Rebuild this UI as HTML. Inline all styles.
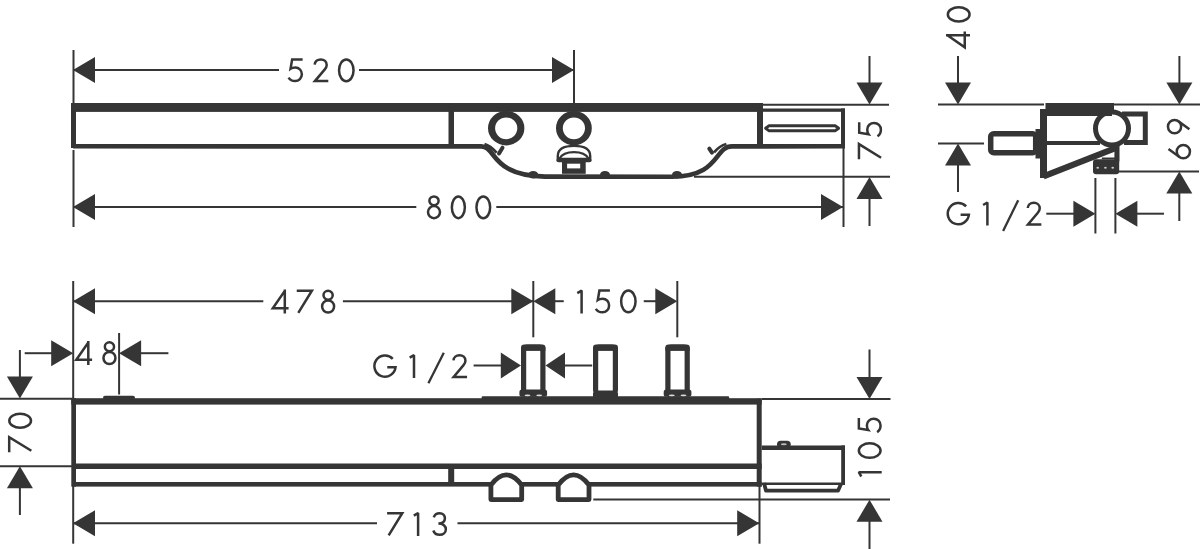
<!DOCTYPE html>
<html><head><meta charset="utf-8"><style>
html,body{margin:0;padding:0;background:#fff;}
svg{display:block;}
.f{fill:#353535;stroke:none;}
</style></head><body>
<svg width="1200" height="549" viewBox="0 0 1200 549" stroke="#353535" font-family="Liberation Sans, sans-serif">
<rect width="1200" height="549" fill="#fff" stroke="none"/>
<line x1="73.5" y1="50" x2="73.5" y2="103" stroke-width="2"/>
<line x1="574" y1="50" x2="574" y2="103" stroke-width="2"/>
<line x1="73" y1="70" x2="279" y2="70" stroke-width="2"/>
<line x1="359" y1="70" x2="574" y2="70" stroke-width="2"/>
<polygon class="f" points="73,70 95,57 95,83"/>
<polygon class="f" points="574,70 552,57 552,83"/>
<g transform="translate(295.25 70.25)" fill="none" stroke-width="2.5"><path d="M7.4,-10.85 L-3.1,-10.85 L-4.7,-1.5 C-3.3,-2.5 -1.7,-2.8 0.1,-2.8 C3.9,-2.8 6.6,0.3 6.6,4.1 C6.6,7.9 3.7,10.85 -0.1,10.85 C-3,10.85 -5.5,9.3 -6.7,7.4"/></g>
<g transform="translate(320.9 70.25)" fill="none" stroke-width="2.5"><path d="M-6.2,-5.6 C-6.0,-8.8 -3.4,-10.85 -0.2,-10.85 C3.3,-10.85 5.8,-8.5 5.8,-5.3 C5.8,-3.6 5.1,-2.3 3.9,-0.9 L-6.0,10.85 L7.4,10.85"/></g>
<g transform="translate(346.3 70.3)" fill="none" stroke-width="2.5"><ellipse cx="0" cy="0" rx="7.25" ry="10.85"/></g>
<rect x="71" y="103" width="690.5" height="8.9" class="f"/>
<rect x="71" y="103" width="5" height="45" class="f"/>
<rect x="448.5" y="111" width="5.5" height="34" class="f"/>
<rect x="757" y="103" width="6" height="45" class="f"/>
<path d="M73,146.3 L481,146.4 C496.3,146 490.2,175.6 545,176.6 L672,176.7 C720.1,176.7 714.1,146.4 732,146.4 L845,146.3" stroke-width="4.6" fill="none" />
<ellipse cx="533.2" cy="174.8" rx="5" ry="3.8" class="f"/>
<ellipse cx="605" cy="174.8" rx="5" ry="3.8" class="f"/>
<ellipse cx="677" cy="174.8" rx="5" ry="3.8" class="f"/>
<path d="M484.5,144.2 C489,145.4 493,148.8 496.6,152.8" stroke-width="2.8" fill="none" />
<path d="M502.5,147.7 L499,153.5" stroke-width="4" fill="none" stroke-linecap="round"/>
<path d="M726.4,144 C721,145.4 717,148.8 714,152.4" stroke-width="2.8" fill="none" />
<path d="M709.3,148.6 L712,152.7" stroke-width="4" fill="none" stroke-linecap="round"/>
<path d="M488.0,128.2 a18.2,17.2 0 1 0 36.4,0 a18.2,17.2 0 1 0 -36.4,0 Z M495.09999999999997,128.3 a11.1,10.9 0 1 0 22.2,0 a11.1,10.9 0 1 0 -22.2,0 Z" class="f" fill-rule="evenodd"/>
<path d="M556.0,128.2 a17.9,17.2 0 1 0 35.8,0 a17.9,17.2 0 1 0 -35.8,0 Z M562.8,128.3 a11.1,10.9 0 1 0 22.2,0 a11.1,10.9 0 1 0 -22.2,0 Z" class="f" fill-rule="evenodd"/>
<rect x="562" y="161" width="23.7" height="12.8" class="f"/>
<rect x="567.1" y="163.7" width="13.1" height="4.7" fill="#fff" stroke="none"/>
<path d="M557.8,161.5 L557.8,156 C557.8,149 564.5,145.9 574,145.9 C583.5,145.9 590.2,149 590.2,156 L590.2,161.5" stroke-width="2.4" fill="#fff" />
<rect x="556.6" y="157.8" width="34.8" height="4.4" rx="2" class="f"/>
<path d="M559.5,158.5 C562,154 567,152.1 574,152.1 C581,152.1 586,154 588.5,158.5" stroke-width="2.2" fill="none" />
<rect x="762" y="108.5" width="83" height="3.3" class="f"/>
<rect x="841" y="108.5" width="4" height="39.5" class="f"/>
<path d="M765.6,128.25 L768.8,125.8 L835.4,125.8 L838.6,128.25 L835.4,130.7 L768.8,130.7 Z" stroke-width="2.9" fill="#fff" stroke-linejoin="round"/>
<line x1="763" y1="104.7" x2="889" y2="104.7" stroke-width="2"/>
<line x1="694" y1="176.8" x2="890" y2="176.8" stroke-width="2"/>
<line x1="869.5" y1="56" x2="869.5" y2="100" stroke-width="2"/>
<polygon class="f" points="869.5,104.6 856.5,82.6 882.5,82.6"/>
<line x1="869.5" y1="180" x2="869.5" y2="226" stroke-width="2"/>
<polygon class="f" points="869.5,177 856.5,199 882.5,199"/>
<g transform="translate(869.8 151) rotate(-90)" fill="none" stroke-width="2.5"><path d="M-8.25,-10.85 L6.9,-10.85 L-6.7,11.3"/></g>
<g transform="translate(870.05 129.55) rotate(-90)" fill="none" stroke-width="2.5"><path d="M7.4,-10.85 L-3.1,-10.85 L-4.7,-1.5 C-3.3,-2.5 -1.7,-2.8 0.1,-2.8 C3.9,-2.8 6.6,0.3 6.6,4.1 C6.6,7.9 3.7,10.85 -0.1,10.85 C-3,10.85 -5.5,9.3 -6.7,7.4"/></g>
<line x1="73.5" y1="150" x2="73.5" y2="227" stroke-width="2"/>
<line x1="843.5" y1="148" x2="843.5" y2="227" stroke-width="2"/>
<line x1="73" y1="207" x2="416.3" y2="207" stroke-width="2"/>
<line x1="496.3" y1="207" x2="843" y2="207" stroke-width="2"/>
<polygon class="f" points="73,207 95,194 95,220"/>
<polygon class="f" points="843,207 821,194 821,220"/>
<g transform="translate(434 207.3)" fill="none" stroke-width="2.5"><ellipse cx="0" cy="-6.45" rx="4.6" ry="4.4"/><ellipse cx="0" cy="4.8" rx="6.0" ry="6.05"/></g>
<g transform="translate(458.35 207.3)" fill="none" stroke-width="2.5"><ellipse cx="0" cy="0" rx="6.5" ry="10.85"/></g>
<g transform="translate(483.3 207.3)" fill="none" stroke-width="2.5"><ellipse cx="0" cy="0" rx="6.85" ry="10.85"/></g>
<g transform="translate(958.7 14.4) rotate(-90)" fill="none" stroke-width="2.5"><ellipse cx="0" cy="0" rx="7.05" ry="10.85"/></g>
<g transform="translate(958 39.75) rotate(-90)" fill="none" stroke-width="2.5"><path d="M4.5,12 L4.5,-12 M4.5,-10.6 L-7.5,6.75 L8.3,6.75"/></g>
<line x1="958" y1="56" x2="958" y2="100" stroke-width="2"/>
<polygon class="f" points="958,104.5 945,82.5 971,82.5"/>
<line x1="938" y1="104.5" x2="1044" y2="104.5" stroke-width="2"/>
<line x1="1114" y1="104.5" x2="1200" y2="104.5" stroke-width="2"/>
<line x1="1179.4" y1="56" x2="1179.4" y2="100" stroke-width="2"/>
<polygon class="f" points="1179.4,104.5 1166.4,82.5 1192.4,82.5"/>
<rect x="1045.5" y="103" width="68.5" height="7" class="f"/>
<rect x="1040" y="109" width="7" height="69" class="f"/>
<rect x="1040" y="109" width="72" height="7" class="f"/>
<rect x="1047" y="141" width="53" height="4" class="f"/>
<circle cx="1112" cy="128.5" r="16.5" fill="none" stroke-width="5"/>
<path d="M1122,114 L1145.3,114 L1145.3,142.6 L1124,142.6" stroke-width="5" fill="none" />
<path d="M1043.5,176.3 L1116,147.8" stroke-width="6.2" fill="none" />
<rect x="1114.4" y="144.4" width="5.1" height="17.1" class="f"/>
<rect x="1093" y="159.3" width="26.2" height="14.9" rx="3" class="f"/>
<line x1="1101.8" y1="158.4" x2="1116" y2="158.4" stroke-width="1.8"/>
<ellipse cx="1097.7" cy="167.7" rx="1.3" ry="1" fill="#ccc" stroke="none"/>
<ellipse cx="1105.4" cy="167.7" rx="1.3" ry="1" fill="#ccc" stroke="none"/>
<ellipse cx="1112.7" cy="167.7" rx="1.3" ry="1" fill="#ccc" stroke="none"/>
<rect x="990.7" y="133.7" width="45" height="19.1" rx="3" fill="#fff" stroke-width="5.5"/>
<rect x="1035.5" y="129" width="5.0" height="29.5" class="f"/>
<line x1="938" y1="143.5" x2="984" y2="143.5" stroke-width="2"/>
<line x1="958" y1="165" x2="958" y2="192" stroke-width="2"/>
<polygon class="f" points="958,143.5 945,165.5 971,165.5"/>
<g transform="translate(958.35 213.65)" fill="none" stroke-width="2.5"><path d="M7.75,-7.23 A10.6 10.6 0 1 0 10.55,1.05 L2.25,1.05"/></g>
<g transform="translate(987.4 213.4)" fill="none" stroke-width="2.5"><path d="M-4.3,-8.4 L0,-10.9 L0,12" stroke-linejoin="bevel"/></g>
<line x1="1018.2" y1="200.3" x2="1003.1" y2="230.9" stroke-width="2.3"/>
<g transform="translate(1033.95 213.6)" fill="none" stroke-width="2.5"><path d="M-6.2,-5.6 C-6.0,-8.8 -3.4,-10.85 -0.2,-10.85 C3.3,-10.85 5.8,-8.5 5.8,-5.3 C5.8,-3.6 5.1,-2.3 3.9,-0.9 L-6.0,10.85 L7.4,10.85"/></g>
<line x1="1046.3" y1="213.7" x2="1076" y2="213.7" stroke-width="2"/>
<polygon class="f" points="1095.4,213.7 1073.4,200.7 1073.4,226.7"/>
<line x1="1136" y1="213.7" x2="1164" y2="213.7" stroke-width="2"/>
<polygon class="f" points="1115.4,213.7 1137.4,200.7 1137.4,226.7"/>
<line x1="1095.4" y1="178" x2="1095.4" y2="233.5" stroke-width="2"/>
<line x1="1115.4" y1="178" x2="1115.4" y2="233.5" stroke-width="2"/>
<line x1="1118.6" y1="171.6" x2="1199" y2="171.6" stroke-width="2"/>
<line x1="1179.3" y1="193" x2="1179.3" y2="221" stroke-width="2"/>
<polygon class="f" points="1179.3,171.6 1166.3,193.6 1192.3,193.6"/>
<g transform="translate(1178.8 126.6) rotate(-90)" fill="none" stroke-width="2.5"><path d="M-2.6,10.6 L5.35,-0.38"/><circle cx="0" cy="-4.25" r="6.6"/></g>
<g transform="translate(1179.1 151.6) rotate(-90)" fill="none" stroke-width="2.5"><path d="M2.6,-10.6 L-5.35,0.38"/><circle cx="0" cy="4.25" r="6.6"/></g>
<line x1="73.2" y1="281" x2="73.2" y2="399" stroke-width="2"/>
<line x1="73.2" y1="486" x2="73.2" y2="543.7" stroke-width="2"/>
<line x1="73" y1="301.2" x2="263.3" y2="301.2" stroke-width="2"/>
<line x1="342.9" y1="301.2" x2="533.3" y2="301.2" stroke-width="2"/>
<polygon class="f" points="73,301.2 95,288.2 95,314.2"/>
<polygon class="f" points="533.3,301.2 511.29999999999995,288.2 511.29999999999995,314.2"/>
<g transform="translate(280.3 301.5)" fill="none" stroke-width="2.5"><path d="M4.5,12 L4.5,-12 M4.5,-10.6 L-7.5,6.75 L8.3,6.75"/></g>
<g transform="translate(305 301.5)" fill="none" stroke-width="2.5"><path d="M-8.25,-10.85 L6.9,-10.85 L-6.7,11.3"/></g>
<g transform="translate(328.1 301.7)" fill="none" stroke-width="2.5"><ellipse cx="0" cy="-6.45" rx="4.6" ry="4.4"/><ellipse cx="0" cy="4.8" rx="6.0" ry="6.05"/></g>
<line x1="533.3" y1="281" x2="533.3" y2="337.3" stroke-width="2"/>
<polygon class="f" points="533.3,301.2 555.3,288.2 555.3,314.2"/>
<line x1="555" y1="301.2" x2="563.75" y2="301.2" stroke-width="2"/>
<line x1="643.75" y1="301.2" x2="656" y2="301.2" stroke-width="2"/>
<polygon class="f" points="677.3,301.2 655.3,288.2 655.3,314.2"/>
<g transform="translate(581.6 301.45)" fill="none" stroke-width="2.5"><path d="M-4.3,-8.4 L0,-10.9 L0,12" stroke-linejoin="bevel"/></g>
<g transform="translate(602.5 301.45)" fill="none" stroke-width="2.5"><path d="M7.4,-10.85 L-3.1,-10.85 L-4.7,-1.5 C-3.3,-2.5 -1.7,-2.8 0.1,-2.8 C3.9,-2.8 6.6,0.3 6.6,4.1 C6.6,7.9 3.7,10.85 -0.1,10.85 C-3,10.85 -5.5,9.3 -6.7,7.4"/></g>
<g transform="translate(628.35 301.45)" fill="none" stroke-width="2.5"><ellipse cx="0" cy="0" rx="7.2" ry="10.85"/></g>
<line x1="677.3" y1="281" x2="677.3" y2="337.3" stroke-width="2"/>
<line x1="24.7" y1="353.2" x2="52" y2="353.2" stroke-width="2"/>
<polygon class="f" points="73.2,353.2 51.2,340.2 51.2,366.2"/>
<polygon class="f" points="119.1,353.2 141.1,340.2 141.1,366.2"/>
<line x1="141" y1="353.2" x2="168.4" y2="353.2" stroke-width="2"/>
<line x1="119.1" y1="333" x2="119.1" y2="394.5" stroke-width="2"/>
<g transform="translate(83.8 353.05)" fill="none" stroke-width="2.5"><path d="M4.5,12 L4.5,-12 M4.5,-10.6 L-7.5,6.75 L8.3,6.75"/></g>
<g transform="translate(109.45 353.2)" fill="none" stroke-width="2.5"><ellipse cx="0" cy="-6.45" rx="4.6" ry="4.4"/><ellipse cx="0" cy="4.8" rx="6.0" ry="6.05"/></g>
<line x1="19.9" y1="350" x2="19.9" y2="380" stroke-width="2"/>
<polygon class="f" points="19.9,398.6 6.899999999999999,376.6 32.9,376.6"/>
<line x1="0" y1="398.7" x2="73" y2="398.7" stroke-width="2"/>
<line x1="0" y1="466.2" x2="72" y2="466.2" stroke-width="2"/>
<line x1="19.9" y1="485" x2="19.9" y2="515" stroke-width="2"/>
<polygon class="f" points="19.9,466.2 6.899999999999999,488.2 32.9,488.2"/>
<g transform="translate(20.15 420.7) rotate(-90)" fill="none" stroke-width="2.5"><ellipse cx="0" cy="0" rx="7.0" ry="10.85"/></g>
<g transform="translate(20.05 444.1) rotate(-90)" fill="none" stroke-width="2.5"><path d="M-8.25,-10.85 L6.9,-10.85 L-6.7,11.3"/></g>
<rect x="71.3" y="398.2" width="690.4" height="6.4" class="f"/>
<rect x="71.3" y="398.2" width="4.7" height="88.4" class="f"/>
<rect x="756.7" y="398.6" width="5.0" height="88.0" class="f"/>
<rect x="72" y="463.5" width="689.7" height="5.5" class="f"/>
<rect x="72" y="482" width="689.7" height="4.6" class="f"/>
<rect x="448.2" y="469" width="6.0" height="13" class="f"/>
<rect x="103" y="395.8" width="32" height="4" rx="2" class="f"/>
<rect x="481.7" y="396.3" width="247.4" height="4" rx="1" class="f"/>
<rect x="523.6" y="347.2" width="19.3" height="46" rx="3" fill="#fff" stroke-width="5.2"/>
<rect x="521" y="344.6" width="24.5" height="6.2" rx="3.2" class="f"/>
<rect x="521" y="347.5" width="24.5" height="3.1" class="f"/>
<rect x="519.4" y="389.6" width="27.7" height="7.2" rx="2.5" class="f"/>
<ellipse cx="527.5" cy="395.3" rx="3" ry="0.9" fill="#ddd" stroke="none"/>
<ellipse cx="539.2" cy="395.3" rx="3" ry="0.9" fill="#ddd" stroke="none"/>
<rect x="595.6" y="347.2" width="19.8" height="46" rx="3" fill="#fff" stroke-width="5.2"/>
<rect x="593" y="344.6" width="25" height="6.2" rx="3.2" class="f"/>
<rect x="593" y="347.5" width="25" height="3.1" class="f"/>
<rect x="593" y="392.5" width="25" height="4.5" class="f"/>
<rect x="667.9" y="347.2" width="19.3" height="46" rx="3" fill="#fff" stroke-width="5.2"/>
<rect x="665.3" y="344.6" width="24.5" height="6.2" rx="3.2" class="f"/>
<rect x="665.3" y="347.5" width="24.5" height="3.1" class="f"/>
<rect x="663.6999999999999" y="389.6" width="27.7" height="7.2" rx="2.5" class="f"/>
<ellipse cx="671.8" cy="395.3" rx="3" ry="0.9" fill="#ddd" stroke="none"/>
<ellipse cx="683.5" cy="395.3" rx="3" ry="0.9" fill="#ddd" stroke="none"/>
<g transform="translate(385 366.1)" fill="none" stroke-width="2.5"><path d="M7.75,-7.23 A10.6 10.6 0 1 0 10.55,1.05 L2.25,1.05"/></g>
<g transform="translate(414 366.05)" fill="none" stroke-width="2.5"><path d="M-4.3,-8.4 L0,-10.9 L0,12" stroke-linejoin="bevel"/></g>
<line x1="443.8" y1="352.7" x2="428.4" y2="383.2" stroke-width="2.3"/>
<g transform="translate(459.65 366.05)" fill="none" stroke-width="2.5"><path d="M-6.2,-5.6 C-6.0,-8.8 -3.4,-10.85 -0.2,-10.85 C3.3,-10.85 5.8,-8.5 5.8,-5.3 C5.8,-3.6 5.1,-2.3 3.9,-0.9 L-6.0,10.85 L7.4,10.85"/></g>
<line x1="473.6" y1="365.5" x2="502" y2="365.5" stroke-width="2"/>
<polygon class="f" points="521,365.5 500.8,352.5 500.8,378.5"/>
<polygon class="f" points="545.5,365.5 565.0,352.5 565.0,378.5"/>
<line x1="564" y1="365.5" x2="592.2" y2="365.5" stroke-width="2"/>
<path d="M490.90000000000003,499.6 L490.90000000000003,485 C494.0,481 500.0,474.9 506.3,474.9 C512.6,474.9 518.6,481 521.7,485 L521.7,499.6 Z" stroke-width="4.8" fill="#fff" stroke-linejoin="round"/>
<path d="M558.2,499.6 L558.2,485 C561.3000000000001,481 567.3000000000001,474.9 573.6,474.9 C579.9,474.9 585.9,481 589.0,485 L589.0,499.6 Z" stroke-width="4.8" fill="#fff" stroke-linejoin="round"/>
<line x1="593.3" y1="499.6" x2="890" y2="499.6" stroke-width="2"/>
<line x1="73" y1="523.3" x2="377" y2="523.3" stroke-width="2"/>
<line x1="457.5" y1="523.3" x2="759.2" y2="523.3" stroke-width="2"/>
<polygon class="f" points="73,523.3 95,510.29999999999995 95,536.3"/>
<polygon class="f" points="759.2,523.3 737.2,510.29999999999995 737.2,536.3"/>
<g transform="translate(395.35 524)" fill="none" stroke-width="2.5"><path d="M-8.25,-10.85 L6.9,-10.85 L-6.7,11.3"/></g>
<g transform="translate(418.1 524)" fill="none" stroke-width="2.5"><path d="M-4.3,-8.4 L0,-10.9 L0,12" stroke-linejoin="bevel"/></g>
<g transform="translate(439.8 524)" fill="none" stroke-width="2.5"><path d="M-6.0,-6.6 C-5.3,-9.3 -2.9,-10.85 -0.1,-10.85 C3,-10.85 5.1,-8.7 5.1,-5.8 C5.1,-2.6 2.8,-0.6 -1.4,-0.6 C3.4,-0.6 6.05,2.2 6.05,5.3 C6.05,8.6 3.3,10.85 -0.1,10.85 C-3.2,10.85 -5.6,9.1 -6.5,6.5"/></g>
<line x1="759.5" y1="486" x2="759.5" y2="543.7" stroke-width="2"/>
<rect x="761.7" y="445.5" width="83.3" height="4.5" class="f"/>
<rect x="841.2" y="445.5" width="3.8" height="39.5" class="f"/>
<path d="M761.7,483.8 L843,483.8" stroke-width="2.4" fill="none" />
<path d="M764,483 L766,490.7 L838,490.7 L841,484" stroke-width="3.8" fill="none" stroke-linejoin="round"/>
<rect x="777" y="440.7" width="13.7" height="7.2" rx="3.6" class="f"/>
<ellipse cx="783.8" cy="444.3" rx="3" ry="1" fill="#bbb" stroke="none"/>
<line x1="869.5" y1="349.5" x2="869.5" y2="380" stroke-width="2"/>
<polygon class="f" points="869.5,399 856.5,377 882.5,377"/>
<line x1="762" y1="398.9" x2="890.5" y2="398.9" stroke-width="2"/>
<line x1="869.5" y1="520" x2="869.5" y2="549" stroke-width="2"/>
<polygon class="f" points="869.5,499.7 856.5,521.7 882.5,521.7"/>
<g transform="translate(869.7 425.4) rotate(-90)" fill="none" stroke-width="2.5"><path d="M7.4,-10.85 L-3.1,-10.85 L-4.7,-1.5 C-3.3,-2.5 -1.7,-2.8 0.1,-2.8 C3.9,-2.8 6.6,0.3 6.6,4.1 C6.6,7.9 3.7,10.85 -0.1,10.85 C-3,10.85 -5.5,9.3 -6.7,7.4"/></g>
<g transform="translate(869.7 450.6) rotate(-90)" fill="none" stroke-width="2.5"><ellipse cx="0" cy="0" rx="7.25" ry="10.85"/></g>
<g transform="translate(869.7 472.2) rotate(-90)" fill="none" stroke-width="2.5"><path d="M-4.3,-8.4 L0,-10.9 L0,12" stroke-linejoin="bevel"/></g>
</svg>
</body></html>
